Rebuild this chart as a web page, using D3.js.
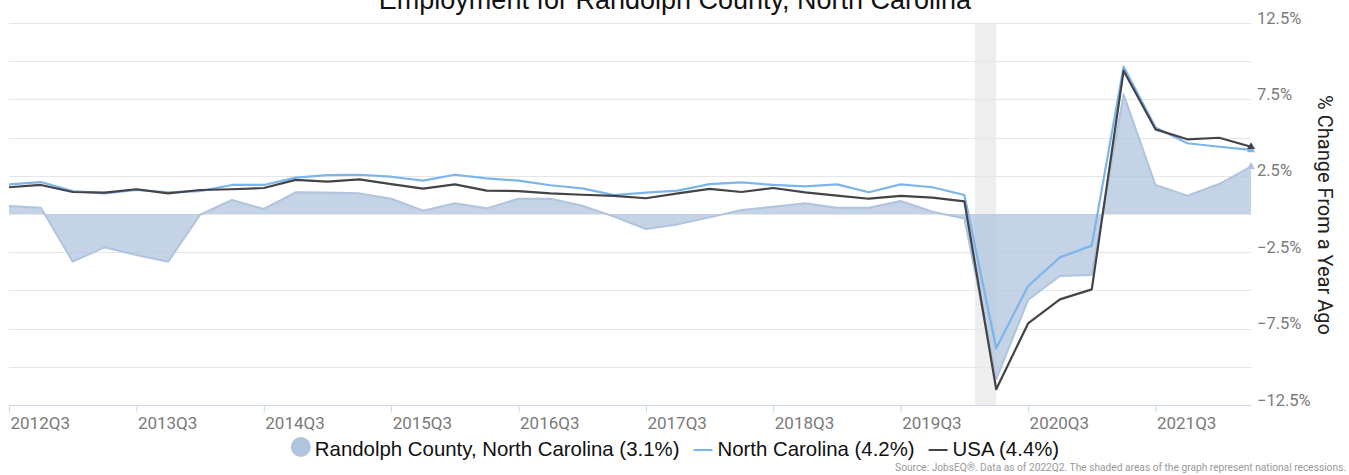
<!DOCTYPE html>
<html>
<head>
<meta charset="utf-8">
<script src="https://cdn.jsdelivr.net/npm/d3@7"></script>
<style>
  body { margin: 0; background: #fff; }
  svg { display: block; }
</style>
</head>
<body>
<svg id="chart" width="1349" height="475"></svg>
<script>
'use strict';

var quarters = [
  '2012Q3','2012Q4','2013Q1','2013Q2','2013Q3','2013Q4','2014Q1','2014Q2',
  '2014Q3','2014Q4','2015Q1','2015Q2','2015Q3','2015Q4','2016Q1','2016Q2',
  '2016Q3','2016Q4','2017Q1','2017Q2','2017Q3','2017Q4','2018Q1','2018Q2',
  '2018Q3','2018Q4','2019Q1','2019Q2','2019Q3','2019Q4','2020Q1','2020Q2',
  '2020Q3','2020Q4','2021Q1','2021Q2','2021Q3','2021Q4','2022Q1','2022Q2'
]

var randolph = [
  0.52, 0.41, -3.12, -2.18, -2.68, -3.12, -0.05, 0.92, 0.33, 1.42,
  1.40, 1.35, 1.00, 0.22, 0.70, 0.37, 1.00, 1.00, 0.54, -0.17,
  -0.98, -0.68, -0.22, 0.26, 0.48, 0.70, 0.41, 0.41, 0.85, 0.15,
  -0.30, -10.8, -5.63, -4.06, -3.99, 7.83, 1.90, 1.20, 1.96, 3.1
]

var northCarolina = [
  1.94, 2.09, 1.50, 1.35, 1.57, 1.42, 1.50, 1.90, 1.90, 2.38,
  2.55, 2.57, 2.44, 2.18, 2.57, 2.33, 2.18, 1.88, 1.68, 1.24,
  1.40, 1.53, 1.96, 2.07, 1.90, 1.81, 1.94, 1.42, 1.94, 1.75,
  1.24, -8.79, -4.71, -2.84, -2.07, 9.64, 5.67, 4.63, 4.40, 4.2
]

var usa = [
  1.75, 1.90, 1.44, 1.40, 1.62, 1.35, 1.57, 1.62, 1.70, 2.23,
  2.12, 2.27, 1.96, 1.66, 1.94, 1.53, 1.50, 1.35, 1.26, 1.18,
  1.03, 1.35, 1.64, 1.44, 1.70, 1.42, 1.20, 1.00, 1.18, 1.07,
  0.83, -11.47, -7.16, -5.59, -4.93, 9.38, 5.54, 4.89, 4.99, 4.4
]

var gridValues = [12.5, 10, 7.5, 5, 2.5, 0, -2.5, -5, -7.5, -10, -12.5]
,   yTickValues = [12.5, 7.5, 2.5, -2.5, -7.5, -12.5]
,   xTickLabels = quarters.filter((q) => q.endsWith('Q3'))
,   recession = ['2020Q1', '2020Q2']

var legendItems = [
  { name: 'Randolph County, North Carolina (3.1%)', type: 'area', color: '#b0c4de' },
  { name: 'North Carolina (4.2%)', type: 'line', color: '#7cb5ec' },
  { name: 'USA (4.4%)', type: 'line', color: '#434348' }
]

var svg = d3.select('#chart')
,   plot = { left: 9, right: 1251, top: 23, bottom: 405 }
,   x = d3.scaleLinear().domain([0, quarters.length - 1]).range([plot.left, plot.right])
,   y = d3.scaleLinear().domain([-12.5, 12.5]).range([plot.bottom, plot.top])

// recession band (Feb 2020 - Apr 2020)
var bandStart = quarters.indexOf(recession[0]) + 1 / 3
,   bandEnd = quarters.indexOf(recession[1])

svg.append('rect')
  .attr('x', x(bandStart))
  .attr('y', plot.top)
  .attr('width', x(bandEnd) - x(bandStart))
  .attr('height', plot.bottom - plot.top)
  .attr('fill', '#eeeeee')

// grid
svg.append('g')
  .selectAll('line')
  .data(gridValues)
  .join('line')
  .attr('x1', plot.left)
  .attr('x2', plot.right)
  .attr('y1', (d) => Math.round(y(d)) + 0.5)
  .attr('y2', (d) => Math.round(y(d)) + 0.5)
  .attr('stroke', '#e6e6e6')
  .attr('stroke-width', 1)

// y axis (right)
var yAxis = d3.axisRight(y)
  .tickValues(yTickValues)
  .tickSize(0)
  .tickPadding(0)
  .tickFormat((d) => d3.format('.1f')(d) + '%')

svg.append('g')
  .attr('transform', 'translate(' + (plot.right + 6) + ',0)')
  .call(yAxis)
  .call((g) => g.select('.domain').remove())
  .call((g) => g.selectAll('text')
    .attr('dy', 0)
    .attr('fill', '#7a7a7a')
    .style('font-family', 'Roboto, sans-serif')
    .style('font-size', '16.5px'))

svg.append('text')
  .attr('transform', 'translate(1318,215) rotate(90)')
  .attr('text-anchor', 'middle')
  .attr('fill', '#222')
  .style('font-family', 'Roboto, sans-serif')
  .style('font-size', '20px')
  .text('% Change From a Year Ago')

// x axis
var xAxis = d3.axisBottom(x)
  .tickValues(xTickLabels.map((q) => quarters.indexOf(q)))
  .tickSize(7)
  .tickPadding(4)
  .tickFormat((i) => quarters[i])

svg.append('g')
  .attr('transform', 'translate(0,' + (plot.bottom + 0.5) + ')')
  .call(xAxis)
  .call((g) => g.select('.domain').attr('stroke', '#ccd6eb').attr('d', 'M' + plot.left + ',0H' + plot.right))
  .call((g) => g.selectAll('.tick line').attr('stroke', '#ccd6eb'))
  .call((g) => g.selectAll('.tick text')
    .attr('text-anchor', 'start')
    .attr('x', 1)
    .attr('dy', '0.71em')
    .attr('fill', '#7a7a7a')
    .style('font-family', 'Roboto, sans-serif')
    .style('font-size', '17px'))

// series
var area = d3.area()
  .x((d, i) => x(i))
  .y0(y(0))
  .y1((d) => y(d))

var line = d3.line()
  .x((d, i) => x(i))
  .y((d) => y(d))

svg.append('path')
  .datum(randolph)
  .attr('d', area)
  .attr('fill', '#b0c4de')
  .attr('fill-opacity', 0.75)

svg.append('path')
  .datum(randolph)
  .attr('d', line)
  .attr('fill', 'none')
  .attr('stroke', '#b0c4de')
  .attr('stroke-width', 2)
  .attr('stroke-linejoin', 'round')

var seriesLines = [
  { values: northCarolina, color: '#7cb5ec' },
  { values: usa, color: '#434348' }
]

seriesLines.forEach((s) => {
  svg.append('path')
    .datum(s.values)
    .attr('d', line)
    .attr('fill', 'none')
    .attr('stroke', s.color)
    .attr('stroke-width', 2.2)
    .attr('stroke-linejoin', 'round')
})

// last point markers
var last = quarters.length - 1
;[{ values: randolph, color: '#b0c4de' }].concat(seriesLines).forEach((s) => {
  svg.append('path')
    .attr('d', d3.symbol(d3.symbolTriangle, 28)())
    .attr('transform', 'translate(' + x(last) + ',' + y(s.values[last]) + ')')
    .attr('fill', s.color)
})

// title
svg.append('text')
  .attr('x', 675)
  .attr('y', 9)
  .attr('text-anchor', 'middle')
  .attr('fill', '#111')
  .style('font-family', '"Liberation Sans", Arial, sans-serif')
  .style('font-size', '27px')
  .text('Employment for Randolph County, North Carolina')

// legend
var legend = svg.append('g')
,   cursor = 0

legendItems.forEach((item, k) => {
  var g = legend.append('g').attr('transform', 'translate(' + cursor + ',0)')

  if (item.type === 'area') {
    g.append('circle').attr('cx', 10).attr('cy', 447).attr('r', 10).attr('fill', item.color)
  } else {
    g.append('line')
      .attr('x1', 0).attr('x2', 19)
      .attr('y1', 450).attr('y2', 450)
      .attr('stroke', item.color)
      .attr('stroke-width', 2)
  }

  var t = g.append('text')
    .attr('x', 24)
    .attr('y', 456)
    .attr('fill', '#111')
    .style('font-family', '"Liberation Sans", Arial, sans-serif')
    .style('font-size', '20.4px')
    .text(item.name)

  cursor += 24 + t.node().getComputedTextLength() + 14
})

var legendWidth = cursor - 14
legend.attr('transform', 'translate(' + (675 - legendWidth / 2) + ',0)')

// source note
svg.append('text')
  .attr('x', 1346)
  .attr('y', 471)
  .attr('text-anchor', 'end')
  .attr('fill', '#999')
  .style('font-family', 'Roboto, sans-serif')
  .style('font-size', '10.2px')
  .text('Source: JobsEQ\u00ae. Data as of 2022Q2. The shaded areas of the graph represent national recessions.')
</script>
</body>
</html>
